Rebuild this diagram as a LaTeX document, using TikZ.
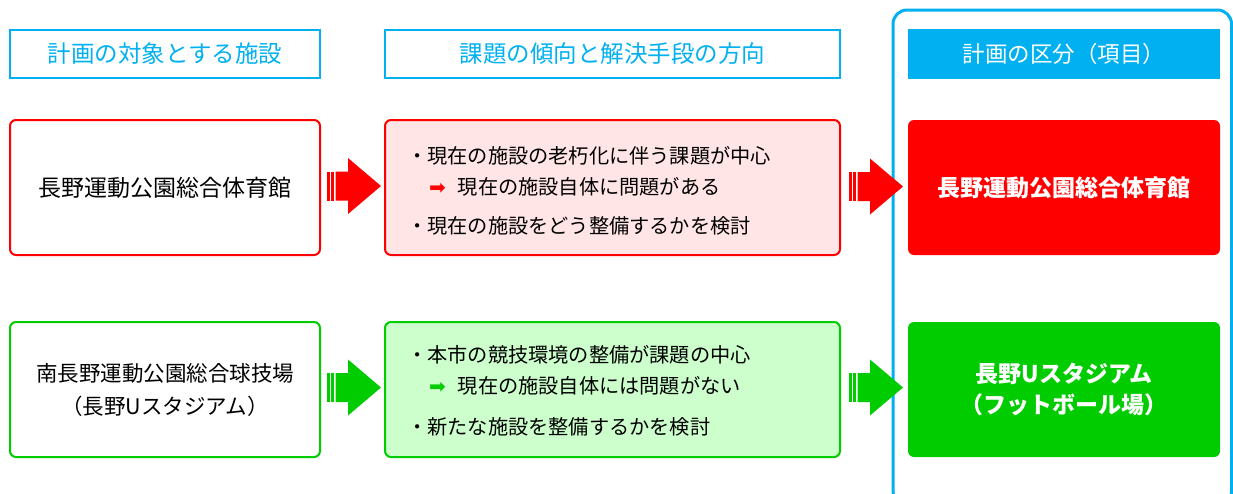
\documentclass[tikz,border=0pt]{standalone}
\usepackage{fontspec}
\setmainfont{Noto Sans CJK JP}
\newfontfamily\symfont{DejaVu Sans}
\usetikzlibrary{positioning,calc}
\definecolor{skyblue}{HTML}{00B0F0}
\definecolor{paleRed}{HTML}{FFE5E5}
\definecolor{boxGreen}{HTML}{00CC00}
\definecolor{paleGreen}{HTML}{CCFFCC}
\tikzset{
  headbox/.style={draw=skyblue, line width=2pt, minimum height=48,
    text=skyblue, font=\fontsize{23.5}{28}\selectfont},
  facbox/.style={draw=#1, line width=2pt, rounded corners=6, fill=white,
    minimum width=310, minimum height=135, align=center,
    font=\fontsize{23}{33}\selectfont},
  issuebox/.style={draw=#1, line width=2pt, rounded corners=6,
    minimum width=455, minimum height=135},
  planbox/.style={fill=#1, rounded corners=6, minimum width=312,
    minimum height=135, text=white, align=center,
    font=\fontsize{23}{31}\bfseries\selectfont},
  issuetext/.style={anchor=west, inner sep=0, font=\fontsize{20.2}{24}\selectfont},
}
% striped block arrow, #1 = start point, #2 = colour
\newcommand\blockarrow[2]{%
  \begin{scope}[shift={(#1)}]
    \fill[#2] (0,-14.5) rectangle (2.5,14.5);
    \fill[#2] (4,-14.5) rectangle (7,14.5);
    \fill[#2] (8.5,-14.5) -- (21,-14.5) -- (21,-28) -- (54,0) -- (21,28)
      -- (21,14.5) -- (8.5,14.5) -- cycle;
  \end{scope}}
\newcommand\smallarrow[1]{{\symfont\color{#1}\fontsize{20}{20}\selectfont ➡}}
\begin{document}
\begin{tikzpicture}[x=1pt, y=-1pt]
  \clip (0,0) rectangle (1233,493);
  \useasboundingbox (0,0) rectangle (1233,493);

  % right column frame
  \draw[skyblue, line width=3pt, rounded corners=14] (893,10) rectangle (1231.5,505);

  % headings
  \node[headbox, minimum width=310] (hdrA) at (165,54) {計画の対象とする施設};
  \node[headbox, minimum width=455] (hdrB) at (612.5,54) {課題の傾向と解決手段の方向};
  \node[fill=skyblue, minimum width=312, minimum height=50, text=white,
    font=\fontsize{22.5}{26}\selectfont] (hdrC) at (1064,54) {計画の区分（項目）};

  % first facility
  \node[facbox=red] (facA) at (165,187.5) {長野運動公園総合体育館};
  \node[issuebox=red, fill=paleRed] (issueA) at (612.5,187.5) {};
  \node[issuetext] (issueA1) at ($(issueA.west)+(23,-32)$) {・現在の施設の老朽化に伴う課題が中心};
  \node[issuetext] (issueA2) at ($(issueA.west)+(45,-1)$) {\smallarrow{red}\hspace{12pt}現在の施設自体に問題がある};
  \node[issuetext] (issueA3) at ($(issueA.west)+(23,38)$) {・現在の施設をどう整備するかを検討};
  \node[planbox=red] (planA) at (1064,187.5) {長野運動公園総合体育館};
  \blockarrow{$(facA.east)+(6,-1.5)$}{red}
  \blockarrow{$(issueA.east)+(8,-1)$}{red}

  % second facility
  \node[facbox=boxGreen, font=\fontsize{21.5}{33}\selectfont] (facB) at (165,389.5) {南長野運動公園総合球技場\\（長野Uスタジアム）};
  \node[issuebox=boxGreen, fill=paleGreen] (issueB) at (612.5,389.5) {};
  \node[issuetext] (issueB1) at ($(issueB.west)+(23,-35)$) {・本市の競技環境の整備が課題の中心};
  \node[issuetext] (issueB2) at ($(issueB.west)+(45,-4)$) {\smallarrow{boxGreen}\hspace{12pt}現在の施設自体には問題がない};
  \node[issuetext] (issueB3) at ($(issueB.west)+(23,37)$) {・新たな施設を整備するかを検討};
  \node[planbox=boxGreen] (planB) at (1064,389.5) {長野Uスタジアム\\（フットボール場）};
  \blockarrow{$(facB.east)+(6,-2)$}{boxGreen}
  \blockarrow{$(issueB.east)+(8,-2)$}{boxGreen}
\end{tikzpicture}
\end{document}
